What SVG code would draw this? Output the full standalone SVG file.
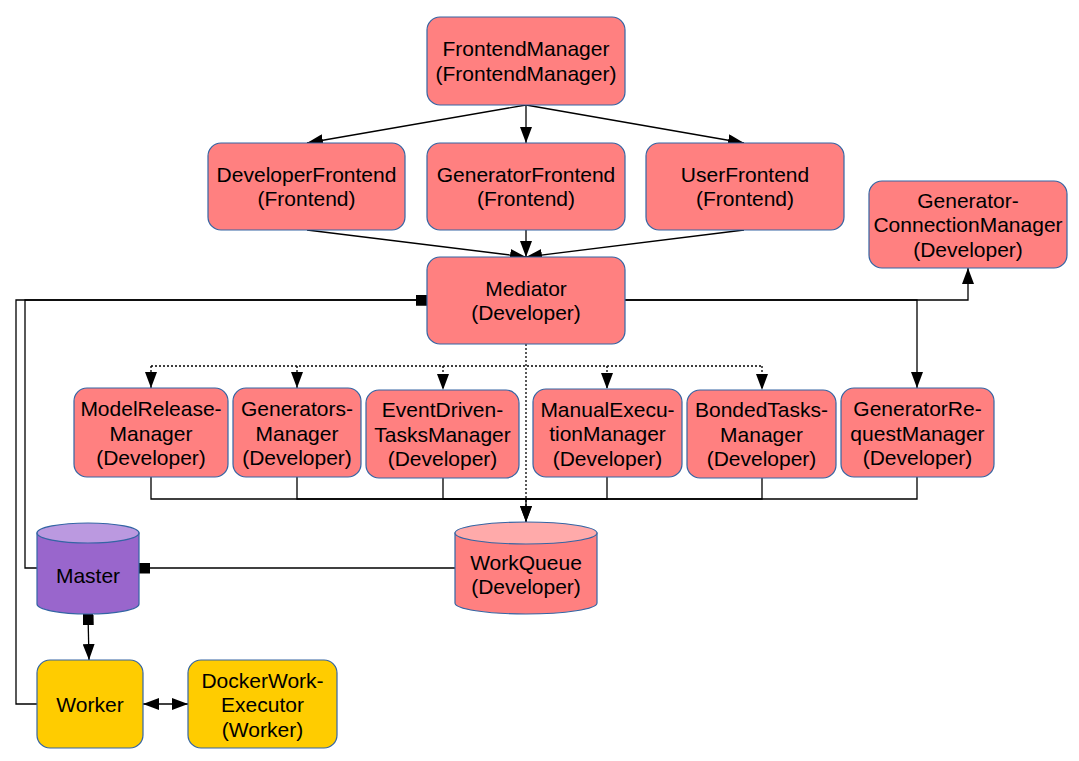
<svg xmlns="http://www.w3.org/2000/svg" width="1079" height="761" viewBox="0 0 1079 761">
<style>
.box{fill:#ff8080;stroke:#3465a4;stroke-width:1.2}
.wq{fill:#ff8080;stroke:#3465a4;stroke-width:1.2}
.wqtop{fill:#ffaaaa;stroke:#3465a4;stroke-width:1.2}
.ms{fill:#9966cc;stroke:#3465a4;stroke-width:1.2}
.mstop{fill:#bb99e0;stroke:#3465a4;stroke-width:1.2}
.wk{fill:#ffcc00;stroke:#3465a4;stroke-width:1.2}
text{font-family:"Liberation Sans",Arial,sans-serif;font-size:21px;text-anchor:middle;fill:#000}
.c{fill:none;stroke:#000;stroke-width:1.3}
.d{fill:none;stroke:#000;stroke-width:1.3;stroke-dasharray:2 2}
</style>
<defs>
<marker id="arr" markerUnits="userSpaceOnUse" markerWidth="16" markerHeight="12" viewBox="0 0 16 12" refX="16" refY="6" orient="auto-start-reverse">
<path d="M0,0 L16,6 L0,12 Z" fill="#000"/>
</marker>
<marker id="sq" markerUnits="userSpaceOnUse" markerWidth="11" markerHeight="11" viewBox="0 0 11 11" refX="0" refY="5.5" orient="auto">
<rect x="0" y="0" width="11" height="11" fill="#000"/>
</marker>
</defs>

<g id="connectors">
<path class="c" d="M526,105 L307,143" marker-end="url(#arr)"/>
<path class="c" d="M526,105 L526,143" marker-end="url(#arr)"/>
<path class="c" d="M526,105 L744,143" marker-end="url(#arr)"/>
<path class="c" d="M307,230 L526,257" marker-end="url(#arr)"/>
<path class="c" d="M526,230 L526,257" marker-end="url(#arr)"/>
<path class="c" d="M744,230 L526,257" marker-end="url(#arr)"/>
<path class="c" d="M625,300 L968,300 L968,268" marker-end="url(#arr)"/>
<path class="c" d="M625,300 L917,300 L917,388" marker-end="url(#arr)"/>
<path class="d" d="M151,366 L762,366"/>
<path class="d" d="M151,366 L151,388" marker-end="url(#arr)"/>
<path class="d" d="M297,366 L297,388" marker-end="url(#arr)"/>
<path class="d" d="M443,366 L443,390" marker-end="url(#arr)"/>
<path class="d" d="M607,366 L607,389" marker-end="url(#arr)"/>
<path class="d" d="M762,366 L762,390" marker-end="url(#arr)"/>
<path class="d" d="M526,344 L526,522" marker-end="url(#arr)"/>
<path class="c" d="M151,477 L151,499 L526,499 L526,522" marker-end="url(#arr)"/>
<path class="c" d="M297,477 L297,499 L526,499"/>
<path class="c" d="M443,478 L443,499 L526,499"/>
<path class="c" d="M607,477 L607,499 L526,499"/>
<path class="c" d="M762,478 L762,499 L526,499"/>
<path class="c" d="M917,477 L917,499 L526,499"/>
<path class="c" d="M427,300 L16,300 L16,704 L37,704" marker-start="url(#sq)"/>
<path class="c" d="M427,300 L25,300 L25,568 L37,568" marker-start="url(#sq)"/>
<path class="c" d="M139,568 L455,568" marker-start="url(#sq)"/>
<path class="c" d="M88,614 L89,660" marker-start="url(#sq)" marker-end="url(#arr)"/>
<path class="c" d="M143,704 L188,704" marker-start="url(#arr)" marker-end="url(#arr)"/>
</g>

<g id="FrontendManager">
<rect class="box" x="427" y="17" width="198" height="88" rx="13"/>
<text x="526" y="56">FrontendManager<tspan x="526" dy="24.5">(FrontendManager)</tspan></text>
</g>
<g id="DeveloperFrontend">
<rect class="box" x="208" y="143" width="197" height="87" rx="13"/>
<text x="306.5" y="181.5">DeveloperFrontend<tspan x="306.5" dy="24.5">(Frontend)</tspan></text>
</g>
<g id="GeneratorFrontend">
<rect class="box" x="427" y="143" width="198" height="87" rx="13"/>
<text x="526" y="181.5">GeneratorFrontend<tspan x="526" dy="24.5">(Frontend)</tspan></text>
</g>
<g id="UserFrontend">
<rect class="box" x="646" y="143" width="198" height="87" rx="13"/>
<text x="745" y="181.5">UserFrontend<tspan x="745" dy="24.5">(Frontend)</tspan></text>
</g>
<g id="GeneratorConnectionManager">
<rect class="box" x="869" y="181" width="198" height="87" rx="13"/>
<text x="968" y="207.5">Generator-<tspan x="968" dy="24.5">ConnectionManager</tspan><tspan x="968" dy="24.5">(Developer)</tspan></text>
</g>
<g id="Mediator">
<rect class="box" x="427" y="257" width="198" height="87" rx="13"/>
<text x="526" y="295.5">Mediator<tspan x="526" dy="24.5">(Developer)</tspan></text>
</g>
<g id="ModelReleaseManager">
<rect class="box" x="74" y="388" width="154" height="89" rx="13"/>
<text x="151" y="416">ModelRelease-<tspan x="151" dy="24.5">Manager</tspan><tspan x="151" dy="24.5">(Developer)</tspan></text>
</g>
<g id="GeneratorsManager">
<rect class="box" x="233" y="388" width="128" height="89" rx="13"/>
<text x="297" y="416">Generators-<tspan x="297" dy="24.5">Manager</tspan><tspan x="297" dy="24.5">(Developer)</tspan></text>
</g>
<g id="EventDrivenTasksManager">
<rect class="box" x="366" y="390" width="153" height="88" rx="13"/>
<text x="442.5" y="417">EventDriven-<tspan x="442.5" dy="24.5">TasksManager</tspan><tspan x="442.5" dy="24.5">(Developer)</tspan></text>
</g>
<g id="ManualExecutionManager">
<rect class="box" x="533" y="389" width="149" height="88" rx="13"/>
<text x="607.5" y="416.5">ManualExecu-<tspan x="607.5" dy="24.5">tionManager</tspan><tspan x="607.5" dy="24.5">(Developer)</tspan></text>
</g>
<g id="BondedTasksManager">
<rect class="box" x="687" y="390" width="149" height="88" rx="13"/>
<text x="761.5" y="417">BondedTasks-<tspan x="761.5" dy="24.5">Manager</tspan><tspan x="761.5" dy="24.5">(Developer)</tspan></text>
</g>
<g id="GeneratorRequestManager">
<rect class="box" x="841" y="388" width="153" height="89" rx="13"/>
<text x="917.5" y="416">GeneratorRe-<tspan x="917.5" dy="24.5">questManager</tspan><tspan x="917.5" dy="24.5">(Developer)</tspan></text>
</g>
<g id="WorkQueue">
<path class="wq" d="M455,533 L455,603 A71,11 0 0 0 597,603 L597,533 Z"/>
<ellipse class="wqtop" cx="526" cy="533" rx="71" ry="11"/>
<text x="526" y="569.5">WorkQueue<tspan x="526" dy="24.5">(Developer)</tspan></text>
</g>
<g id="Master">
<path class="ms" d="M37,533 L37,604 A51,10 0 0 0 139,604 L139,533 Z"/>
<ellipse class="mstop" cx="88" cy="533" rx="51" ry="10"/>
<text x="88" y="582.5">Master</text>
</g>
<g id="Worker">
<rect class="wk" x="37" y="660" width="106" height="88" rx="13"/>
<text x="90" y="711.5">Worker</text>
</g>
<g id="DockerWorkExecutor">
<rect class="wk" x="188" y="660" width="149" height="88" rx="13"/>
<text x="262.5" y="687.5">DockerWork-<tspan x="262.5" dy="24.5">Executor</tspan><tspan x="262.5" dy="24.5">(Worker)</tspan></text>
</g>
</svg>
